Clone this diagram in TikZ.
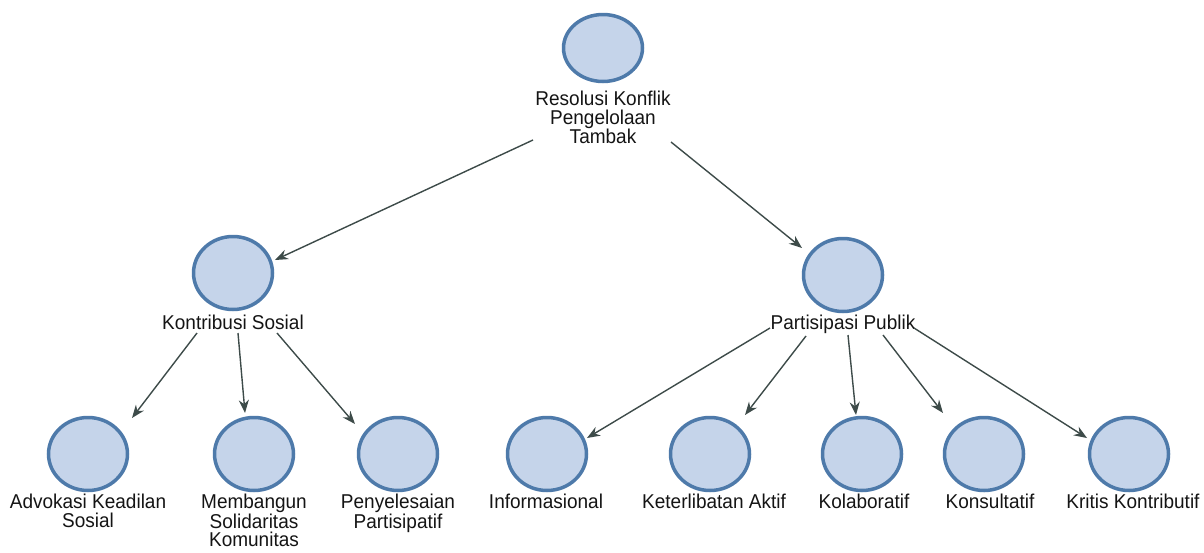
\documentclass[tikz,border=0pt]{standalone}
\usepackage{fontspec}
\setmainfont{Liberation Sans}[FakeStretch=0.95]
\usetikzlibrary{shapes.geometric,arrows.meta}
\definecolor{ringc}{HTML}{4E7AAA}
\definecolor{ringl}{HTML}{8FB2DD}
\definecolor{fillc}{HTML}{C5D4EA}
\definecolor{arrc}{HTML}{3D4B49}
\definecolor{txtc}{HTML}{141414}
\begin{document}
\begin{tikzpicture}[x=1pt,y=-1pt,
  bub/.style={ellipse, draw=ringc, line width=3.5pt, fill=fillc, minimum width=79pt, minimum height=73pt, inner sep=0pt},
  lbl/.style={anchor=north, align=center, inner sep=0pt, text=txtc, font=\fontsize{20}{18.5}\selectfont},
  conn/.style={draw=arrc, line width=1.4pt, -{Stealth[length=13pt,width=10pt]}}]
\useasboundingbox (0,0) rectangle (1204,552);
% top level
\node[bub, minimum height=67pt] (top) at (603,48) {};
\node[lbl] (topL) at (603,91) {Resolusi Konflik\\Pengelolaan\\Tambak};
% second level
\node[bub] (ks) at (233,273) {};
\node[lbl] (ksL) at (233,315) {Kontribusi Sosial};
\node[bub] (pp) at (843,275) {};
\node[lbl] (ppL) at (843,315) {Partisipasi Publik};
% third level
\node[bub] (adv) at (88,454) {};
\node[lbl] (advL) at (88,494) {Advokasi Keadilan\\Sosial};
\node[bub] (mem) at (254,454) {};
\node[lbl] (memL) at (254,494) {Membangun\\Solidaritas\\Komunitas};
\node[bub] (pen) at (398,454) {};
\node[lbl] (penL) at (398,494) {Penyelesaian\\Partisipatif};
\node[bub] (inf) at (547,454) {};
\node[lbl] (infL) at (546,494) {Informasional};
\node[bub] (ket) at (710,454) {};
\node[lbl] (ketL) at (714,494) {Keterlibatan Aktif};
\node[bub] (kol) at (862,454) {};
\node[lbl] (kolL) at (864,494) {Kolaboratif};
\node[bub] (kon) at (984,454) {};
\node[lbl] (konL) at (990,494) {Konsultatif};
\node[bub] (kri) at (1129,454) {};
\node[lbl] (kriL) at (1133,494) {Kritis Kontributif};
% connectors
\draw[conn] ([shift={(-70,92)}]top.center) -- ([shift={(42,-13)}]ks.center);
\draw[conn] ([shift={(68,94)}]top.center) -- ([shift={(-41,-27)}]pp.center);
\draw[conn] ([shift={(-36,60)}]ks.center) -- ([shift={(44,-36)}]adv.center);
\draw[conn] ([shift={(5,60)}]ks.center) -- ([shift={(-9,-41)}]mem.center);
\draw[conn] ([shift={(44,60)}]ks.center) -- ([shift={(-43,-30)}]pen.center);
\draw[conn] ([shift={(-73,53)}]pp.center) -- ([shift={(40,-16)}]inf.center);
\draw[conn] ([shift={(-37,61)}]pp.center) -- ([shift={(35,-39)}]ket.center);
\draw[conn] ([shift={(5,60)}]pp.center) -- ([shift={(-6,-39)}]kol.center);
\draw[conn] ([shift={(40,60)}]pp.center) -- ([shift={(-41,-41)}]kon.center);
\draw[conn] ([shift={(71,53)}]pp.center) -- ([shift={(-42,-16)}]kri.center);
\end{tikzpicture}
\end{document}
